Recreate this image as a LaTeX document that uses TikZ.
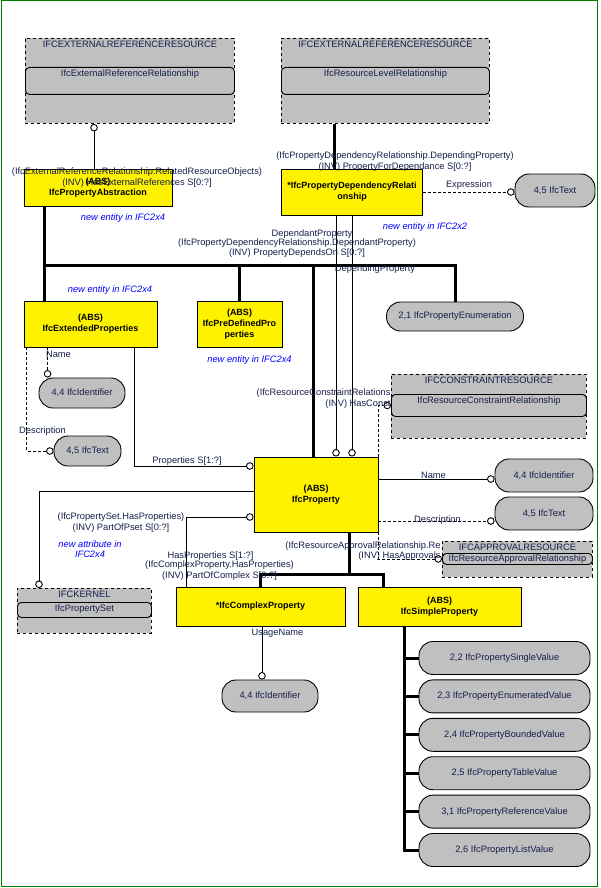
\documentclass[tikz,border=0pt]{standalone}
\usepackage{fontspec}
\setmainfont{Liberation Sans}
\usepackage{xcolor}
\usepackage{tikz}
\usetikzlibrary{positioning}
\usetikzlibrary{arrows.meta}
\definecolor{boxgray}{RGB}{192,192,192}
\definecolor{labelblue}{RGB}{20,30,75}
\definecolor{framegreen}{RGB}{0,128,0}
\tikzset{super/.style = {line width=3pt},
  rel/.style = {-{Circle[fill=white,length=7.5pt]}},
  dashed rel/.style = {rel, dash pattern=on 3pt off 2pt}}

\begin{document}
\begin{tikzpicture}[x=1pt,y=-1pt,line width=0.9pt,node distance=38.4pt,
    font=\fontsize{9.3}{10.5}\selectfont,
    entity/.style={draw,fill=yellow,align=center,inner sep=1pt,font=\fontsize{9}{11}\selectfont\bfseries},
    type node/.style={draw,fill=boxgray,rounded corners=14pt,text=labelblue,inner sep=2pt},
    schema/.style={draw,dashed,fill=boxgray,anchor=north west,inner sep=2.5pt,text height=7pt,text depth=#1,text=labelblue},
    class/.style={draw,solid,rounded corners=4pt,fill=boxgray,anchor=north west,inner sep=2.5pt,text height=7pt,text depth=#1,text=labelblue},
    lbl/.style={text=labelblue,align=center,inner sep=0pt},
    note/.style={text=blue,align=center,inner sep=0pt,font=\fontsize{9.3}{10.5}\selectfont\itshape}]
  \useasboundingbox (0,0) rectangle (600,888);
  \draw[framegreen,line width=1pt] (1,1) rectangle (597,886);

  % resource schemas
  \node[schema=73pt,minimum width=209pt] (extres) at (25,38) {IFCEXTERNALREFERENCERESOURCE};
  \node[class=15pt,minimum width=209pt] (extrel) at (25,67) {IfcExternalReferenceRelationship};
  \node[schema=73pt,minimum width=208pt] (lvlres) at (281,38) {IFCEXTERNALREFERENCERESOURCE};
  \node[class=15pt,minimum width=208pt] (lvlrel) at (281,67) {IfcResourceLevelRelationship};
  \node[schema=52pt,minimum width=195pt] (conres) at (391,374) {IFCCONSTRAINTRESOURCE};
  \node[class=10pt,minimum width=195pt] (conrel) at (391,394) {IfcResourceConstraintRelationship};
  \node[schema=24pt,minimum width=150pt] (appres) at (442,541) {IFCAPPROVALRESOURCE};
  \node[class=2pt,inner ysep=1pt,minimum width=150pt] (apprel) at (442,553) {IfcResourceApprovalRelationship};
  \node[schema=33pt,minimum width=134pt] (kernel) at (17,588) {IFCKERNEL};
  \node[class=3pt,minimum width=134pt] (pset) at (17,602) {IfcPropertySet};

  % entities
  \node[entity,minimum width=148pt,minimum height=37pt] (abstr) at (98,187.5) {(ABS)\\IfcPropertyAbstraction};
  \node[entity,minimum width=141pt,minimum height=46pt] (deprel) at (352,192) {*IfcPropertyDependencyRelati\\onship};
  \node[entity,minimum width=133pt,minimum height=46pt] (extprop) at (90.5,324) {(ABS)\\IfcExtendedProperties};
  \node[entity,minimum width=85pt,minimum height=46pt] (predef) at (239.5,324) {(ABS)\\IfcPreDefinedPro\\perties};
  \node[entity,minimum width=124pt,minimum height=75pt] (prop) at (316,494.5) {(ABS)\\IfcProperty};
  \node[entity,minimum width=169pt,minimum height=39pt] (complex) at (260.5,606.5) {*IfcComplexProperty};
  \node[entity,minimum width=163pt,minimum height=39pt] (simple) at (439.5,606.5) {(ABS)\\IfcSimpleProperty};

  % defined types
  \node[type node,minimum width=80pt,minimum height=33pt] (text1) at (555,190.5) {4,5 IfcText};
  \node[type node,minimum width=137pt,minimum height=29pt] (enum) at (455,316.5) {2,1 IfcPropertyEnumeration};
  \node[type node,minimum width=86pt,minimum height=30pt] (ident1) at (82,393) {4,4 IfcIdentifier};
  \node[type node,minimum width=67pt,minimum height=30pt] (text2) at (87.5,451) {4,5 IfcText};
  \node[type node,minimum width=98pt,minimum height=33pt] (ident2) at (544,475.5) {4,4 IfcIdentifier};
  \node[type node,minimum width=98pt,minimum height=33pt] (text3) at (544,513.5) {4,5 IfcText};
  \node[type node,minimum width=96pt,minimum height=32pt] (ident3) at (270,696) {4,4 IfcIdentifier};
  \node[type node,minimum width=171pt,minimum height=33pt] (v1) at (504.5,658) {2,2 IfcPropertySingleValue};
  \node[type node,minimum width=171pt,minimum height=33pt] (v2) [below of=v1] {2,3 IfcPropertyEnumeratedValue};
  \node[type node,minimum width=171pt,minimum height=33pt] (v3) [below of=v2] {2,4 IfcPropertyBoundedValue};
  \node[type node,minimum width=171pt,minimum height=33pt] (v4) [below of=v3] {2,5 IfcPropertyTableValue};
  \node[type node,minimum width=171pt,minimum height=33pt] (v5) [below of=v4] {3,1 IfcPropertyReferenceValue};
  \node[type node,minimum width=171pt,minimum height=33pt] (v6) [below of=v5] {2,6 IfcPropertyListValue};

  % subtype trees
  \coordinate (bus w) at (44,265);
  \coordinate (bus e) at (455,265);
  \coordinate (sub bus) at (349,574);
  \coordinate (tree) at ([xshift=-35.5pt]simple.south);
  \draw[super] ([xshift=-18pt]deprel.north) -- ([xshift=-18pt]deprel.north |- lvlres.south);
  \draw[super] (abstr.south -| bus w) -- (extprop.north -| bus w);
  \draw[super] (bus w) -- (bus e) -- (enum.north);
  \draw[super] (predef.north |- bus w) -- (predef.north);
  \draw[super] ([xshift=-3pt]prop.north |- bus w) -- ([xshift=-3pt]prop.north);
  \draw[super] ([xshift=33pt]prop.south) -- (sub bus);
  \draw[super] (complex.north) |- (sub bus) -| ([xshift=-56.5pt]simple.north);
  \draw[super] (tree) |- (v6.west);
  \path[super]
    (v1.west) edge (v1.west -| tree)
    (v2.west) edge (v2.west -| tree)
    (v3.west) edge (v3.west -| tree)
    (v4.west) edge (v4.west -| tree)
    (v5.west) edge (v5.west -| tree)
    ;

  % attributes and inverses
  \draw[rel] ([xshift=-4pt]abstr.north) -- ([xshift=-4pt]abstr.north |- extres.south);
  \draw[rel] (deprel.south) -- (deprel.south |- prop.north);
  \draw[rel] ([xshift=-16pt]deprel.south) -- ([xshift=-16pt]deprel.south |- prop.north);
  \draw[dashed rel] (deprel.east) -- (deprel.east -| text1.west);
  \draw[dashed rel] ([xshift=24pt]extprop.south west) -- ([xshift=24pt]extprop.south west |- ident1.north);
  \draw[dashed rel] ([xshift=3pt]extprop.south west) |- (text2.west);
  \draw[rel] ([xshift=-23pt]extprop.south east) |- ([yshift=28.5pt]prop.west);
  \draw[rel] ([yshift=3.5pt]prop.west) -| ([xshift=22pt]kernel.north west);
  \draw[rel] ([xshift=-74.5pt]complex.north) |- ([yshift=-22.5pt]prop.west);
  \draw[rel] ([yshift=15.5pt]prop.east) -- ([yshift=15.5pt]prop.east -| ident2.west);
  \draw[dashed rel] ([yshift=-26.5pt]prop.east) -- ([yshift=-26.5pt]prop.east -| text3.west);
  \draw[dashed rel] (prop.north east) |- (conrel.west);
  \draw[dashed rel] (prop.south east) |- (apprel.west);
  \draw[rel] ([xshift=1.5pt]complex.south) -- ([xshift=1.5pt]complex.south |- ident3.north);

  % labels
  \node[lbl] (l extref) at (137,177.5) {(IfcExternalReferenceRelationship.RelatedResourceObjects)\\(INV) HasExternalReferences S[0:?]};
  \node[lbl] (l depending) at (395,161.5) {(IfcPropertyDependencyRelationship.DependingProperty)\\(INV) PropertyForDependance S[0:?]};
  \node[lbl] (l expr) at (469,185) {Expression};
  \node[lbl] (l dependant) at (312,234) {DependantProperty};
  \node[lbl] (l dependson) at (297,248) {(IfcPropertyDependencyRelationship.DependantProperty)\\(INV) PropertyDependsOn S[0:?]};
  \node[lbl] (l dependingp) at (375,269) {DependingProperty};
  \node[lbl] (l name1) at (58.5,354) {Name};
  \node[lbl] (l descr1) at (42.5,431) {Description};
  \node[lbl] (l props) at (187,461) {Properties S[1:?]};
  \node[lbl,align=right,anchor=east] (l constr) at (391,398.5) {(IfcResourceConstraintRelations\\(INV) HasConst};
  \node[lbl] (l name2) at (433.5,475) {Name};
  \node[lbl] (l descr2) at (437.5,520) {Description};
  \node[lbl] (l pset) at (121,522.5) {(IfcPropertySet.HasProperties)\\(INV) PartOfPset S[0:?]};
  \node[lbl,align=right,anchor=east] (l approval) at (441,551) {(IfcResourceApprovalRelationship.Re\\(INV) HasApprovals};
  \node[lbl] (l hasprops) at (210.5,556) {HasProperties S[1:?]};
  \node[lbl] (l partof) at (219.5,570.5) {(IfcComplexProperty.HasProperties)\\(INV) PartOfComplex S[0:?]};
  \node[lbl] (l usage) at (277.5,633) {UsageName};

  % version notes
  \node[note] (n abstr) at (123,218) {new entity in IFC2x4};
  \node[note] (n deprel) at (425,227) {new entity in IFC2x2};
  \node[note] (n ext) at (110,290) {new entity in IFC2x4};
  \node[note] (n predef) at (249.5,360) {new entity in IFC2x4};
  \node[note] (n pset) at (90,549) {new attribute in\\IFC2x4};
\end{tikzpicture}
\end{document}
